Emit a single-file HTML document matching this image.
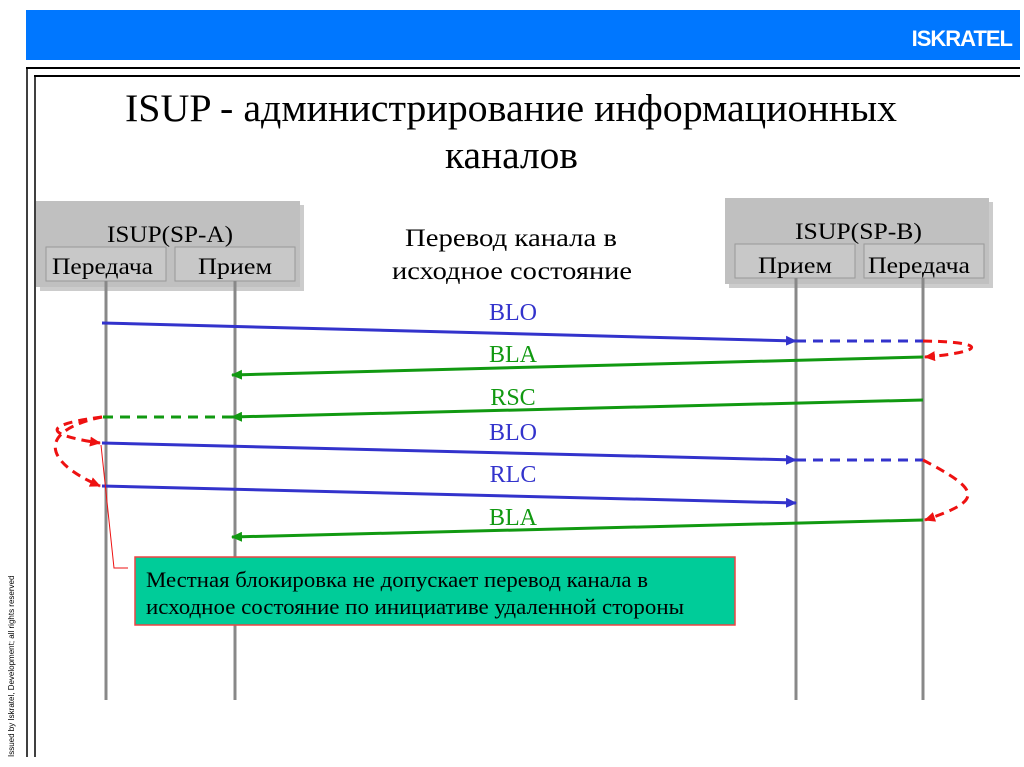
<!DOCTYPE html>
<html><head><meta charset="utf-8"><style>
body{margin:0;width:1024px;height:767px;background:#fff;overflow:hidden;font-family:"Liberation Serif","Noto Serif CJK SC",serif}
svg{position:absolute;left:0;top:0}
</style></head><body>
<svg width="1024" height="767" viewBox="0 0 1024 767">
<defs>
<marker id="ab" markerWidth="11" markerHeight="10" refX="10" refY="5" orient="auto" markerUnits="userSpaceOnUse"><path d="M0,0 L11,5 L0,10z" fill="#3333cc"/></marker>
<marker id="ag" markerWidth="11" markerHeight="10" refX="10" refY="5" orient="auto" markerUnits="userSpaceOnUse"><path d="M0,0 L11,5 L0,10z" fill="#119911"/></marker>
<marker id="ar" markerWidth="11" markerHeight="10" refX="10" refY="5" orient="auto" markerUnits="userSpaceOnUse"><path d="M0,0 L11,5 L0,10z" fill="#ee1111"/></marker>
</defs>
<rect x="26" y="10" width="994" height="50" fill="#0077ff"/>
<text x="1012" y="46" text-anchor="end" font-family="Liberation Sans,sans-serif" font-weight="bold" font-size="22" fill="#fff" letter-spacing="-1">ISKRATEL</text>
<line x1="26" y1="68" x2="1020" y2="68" stroke="#000" stroke-width="2"/>
<line x1="34" y1="76" x2="1020" y2="76" stroke="#000" stroke-width="2"/>
<line x1="27" y1="68" x2="27" y2="757" stroke="#000" stroke-width="1.5"/>
<line x1="35" y1="76" x2="35" y2="757" stroke="#000" stroke-width="1.5"/>
<text x="14" y="757" transform="rotate(-90 14 757)" font-family="Liberation Sans,sans-serif" font-size="8" fill="#000">Issued by Iskratel, Development; all rights reserved</text>
<text x="125" y="121" font-size="39" textLength="772" lengthAdjust="spacingAndGlyphs">ISUP - администрирование информационных</text>
<text x="445" y="168" font-size="39" textLength="133" lengthAdjust="spacingAndGlyphs">каналов</text>
<rect x="40" y="205" width="264" height="86" fill="#999" opacity=".5"/>
<rect x="36" y="201" width="264" height="86" fill="#c0c0c0"/>
<text x="107" y="242" font-size="23" textLength="126" lengthAdjust="spacingAndGlyphs">ISUP(SP-A)</text>
<rect x="46" y="247" width="120" height="34" fill="#c8c8c8" stroke="#999"/>
<rect x="175" y="247" width="120" height="34" fill="#c8c8c8" stroke="#999"/>
<text x="52" y="274" font-size="23" textLength="101" lengthAdjust="spacingAndGlyphs">Передача</text>
<text x="198" y="274" font-size="23" textLength="74" lengthAdjust="spacingAndGlyphs">Прием</text>
<rect x="729" y="202" width="264" height="86" fill="#999" opacity=".5"/>
<rect x="725" y="198" width="264" height="86" fill="#c0c0c0"/>
<text x="795" y="239" font-size="23" textLength="127" lengthAdjust="spacingAndGlyphs">ISUP(SP-B)</text>
<rect x="735" y="244" width="120" height="34" fill="#c8c8c8" stroke="#999"/>
<rect x="864" y="244" width="120" height="34" fill="#c8c8c8" stroke="#999"/>
<text x="758" y="273" font-size="23" textLength="74" lengthAdjust="spacingAndGlyphs">Прием</text>
<text x="868" y="273" font-size="23" textLength="102" lengthAdjust="spacingAndGlyphs">Передача</text>
<text x="405" y="246" font-size="25" textLength="212" lengthAdjust="spacingAndGlyphs">Перевод канала в</text>
<text x="392" y="279" font-size="25" textLength="240" lengthAdjust="spacingAndGlyphs">исходное состояние</text>
<g stroke="#888" stroke-width="3">
<line x1="106" y1="281" x2="106" y2="700"/><line x1="235" y1="281" x2="235" y2="700"/>
<line x1="796" y1="278" x2="796" y2="700"/><line x1="923" y1="278" x2="923" y2="700"/>
</g>
<g font-size="24" text-anchor="middle">
<text x="513" y="320" fill="#3333cc">BLO</text>
<text x="513" y="362" fill="#119911">BLA</text>
<text x="513" y="405" fill="#119911">RSC</text>
<text x="513" y="440" fill="#3333cc">BLO</text>
<text x="513" y="482" fill="#3333cc">RLC</text>
<text x="513" y="525" fill="#119911">BLA</text>
</g>
<g stroke-width="3" fill="none">
<line x1="102" y1="323" x2="796" y2="341" stroke="#3333cc" marker-end="url(#ab)"/>
<line x1="796" y1="341" x2="923" y2="341" stroke="#3333cc" stroke-dasharray="10,7"/>
<line x1="923" y1="357" x2="232" y2="375" stroke="#119911" marker-end="url(#ag)"/>
<line x1="923" y1="400" x2="232" y2="417" stroke="#119911" marker-end="url(#ag)"/>
<line x1="232" y1="417" x2="102" y2="417" stroke="#119911" stroke-dasharray="10,7"/>
<line x1="102" y1="443" x2="796" y2="460" stroke="#3333cc" marker-end="url(#ab)"/>
<line x1="796" y1="460" x2="923" y2="460" stroke="#3333cc" stroke-dasharray="10,7"/>
<line x1="102" y1="486" x2="796" y2="503" stroke="#3333cc" marker-end="url(#ab)"/>
<line x1="923" y1="520" x2="232" y2="537" stroke="#119911" marker-end="url(#ag)"/>
<g stroke="#ee1111" stroke-dasharray="9,6">
<path d="M923,341 C990,342 985,352 925,357" marker-end="url(#ar)"/>
<path d="M923,460 C980,490 985,500 925,520" marker-end="url(#ar)"/>
<path d="M102,417 C40,425 45,435 100,443" marker-end="url(#ar)"/>
<path d="M102,417 C40,430 40,460 100,486" marker-end="url(#ar)"/>
</g>
</g>
<polyline points="101,445 114,568 128,568" fill="none" stroke="#ee1111" stroke-width="1"/>
<rect x="135" y="557" width="600" height="68" fill="#00cc99" stroke="#ee4444" stroke-width="1.5"/>
<text x="146" y="587" font-size="22" textLength="502" lengthAdjust="spacingAndGlyphs">Местная блокировка не допускает перевод канала в</text>
<text x="146" y="614" font-size="22" textLength="538" lengthAdjust="spacingAndGlyphs">исходное состояние по инициативе удаленной стороны</text>
</svg>
</body></html>
